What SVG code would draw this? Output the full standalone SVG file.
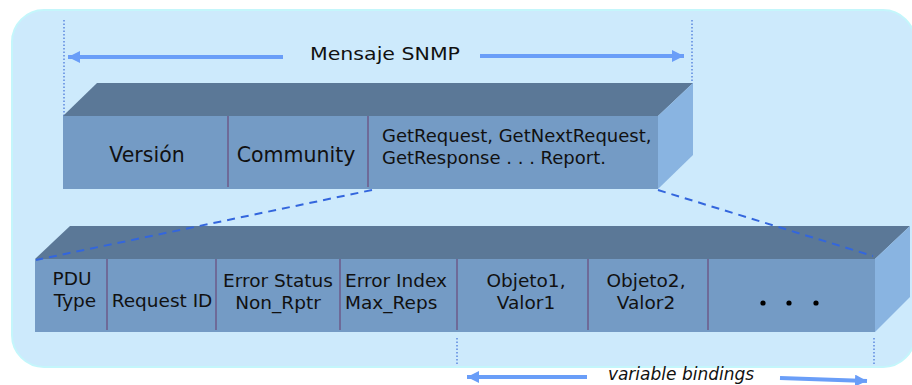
<svg xmlns="http://www.w3.org/2000/svg" width="912" height="385" viewBox="0 0 912 385">
<style>
.bg{fill:#cdeafc;stroke:#c4f6fb;stroke-width:2}
.top{fill:#5b7897}
.front{fill:#749bc5}
.side{fill:#89b4e1}
.div{stroke:#6e6a98;stroke-width:2}
.t{font-family:"DejaVu Sans",Verdana,sans-serif;fill:#111;text-anchor:middle}
.dot{stroke:#3f6fd8;stroke-width:1.2;stroke-dasharray:1.5 2}
.dash{stroke:#3366dd;stroke-width:2;stroke-dasharray:8 6;fill:none}
.arr{stroke:#6a9ef8;stroke-width:4;fill:none}
</style>
<defs>
<marker id="ah" markerUnits="userSpaceOnUse" markerWidth="14" markerHeight="12" refX="12" refY="6" orient="auto">
<path d="M0,0 L12,6 L0,12 Z" fill="#6a9ef8"/>
</marker>
</defs>
<rect class="bg" x="12" y="10" width="903" height="357" rx="32"/>
<g id="connectors">
<line class="dot" x1="64" y1="20" x2="64" y2="116"/>
<line class="dot" x1="692" y1="20" x2="692" y2="135"/>
<line class="arr" x1="283" y1="57" x2="68" y2="57" marker-end="url(#ah)"/>
<line class="arr" x1="480" y1="56" x2="684" y2="56" marker-end="url(#ah)"/>
<line class="dot" x1="457" y1="338" x2="457" y2="366"/>
<line class="dot" x1="874" y1="338" x2="874" y2="366"/>
<line class="arr" x1="587" y1="377" x2="467" y2="377" marker-end="url(#ah)"/>
<line class="arr" x1="780" y1="378" x2="867" y2="381" marker-end="url(#ah)"/>
</g>
<g id="snmp-label">
<text class="t" x="385" y="60" font-size="18" textLength="150" lengthAdjust="spacingAndGlyphs">Mensaje SNMP</text>
</g>
<g id="message-block">
<polygon class="top" points="63,116 97,83 693,83 658,116"/>
<polygon class="side" points="658,116 693,83 693,155 658,189"/>
<rect class="front" x="63" y="116" width="595" height="73"/>
<line class="div" x1="228" y1="116" x2="228" y2="187"/>
<line class="div" x1="368" y1="116" x2="368" y2="187"/>
<text class="t" x="147" y="162" font-size="20.5">Versión</text>
<text class="t" x="296" y="162" font-size="20.5">Community</text>
<text class="t" x="382" y="142" font-size="18" style="text-anchor:start">GetRequest, GetNextRequest,</text>
<text class="t" x="382" y="164" font-size="18" style="text-anchor:start">GetResponse . . . Report.</text>
</g>
<g id="pdu-block">
<polygon class="top" points="35,259 70,226 910,226 875,259"/>
<polygon class="side" points="875,259 910,226 910,297 875,332"/>
<rect class="front" x="35" y="259" width="840" height="73"/>
<line class="div" x1="107" y1="259" x2="107" y2="330"/>
<line class="div" x1="216" y1="259" x2="216" y2="330"/>
<line class="div" x1="340" y1="259" x2="340" y2="330"/>
<line class="div" x1="457" y1="259" x2="457" y2="330"/>
<line class="div" x1="588" y1="259" x2="588" y2="330"/>
<line class="div" x1="708" y1="259" x2="708" y2="330"/>
<text class="t" x="72" y="285" font-size="18.5">PDU</text>
<text class="t" x="75" y="307" font-size="18.5">Type</text>
<text class="t" x="162" y="307" font-size="18.5">Request ID</text>
<text class="t" x="278" y="287" font-size="18.5">Error Status</text>
<text class="t" x="278" y="309" font-size="18.5">Non_Rptr</text>
<text class="t" x="345" y="287" font-size="18.5" style="text-anchor:start">Error Index</text>
<text class="t" x="345" y="309" font-size="18.5" style="text-anchor:start">Max_Reps</text>
<text class="t" x="526" y="287" font-size="18.5">Objeto1,</text>
<text class="t" x="526" y="309" font-size="18.5">Valor1</text>
<text class="t" x="646" y="287" font-size="18.5">Objeto2,</text>
<text class="t" x="646" y="309" font-size="18.5">Valor2</text>
<circle cx="763" cy="303" r="2.6" fill="#000"/>
<circle cx="789" cy="303" r="2.6" fill="#000"/>
<circle cx="816" cy="303" r="2.6" fill="#000"/>
</g>
<g id="zoom-lines">
<line class="dash" x1="372" y1="190" x2="36" y2="260"/>
<line class="dash" x1="658" y1="190" x2="873" y2="256"/>
</g>
<g id="bindings-label">
<text class="t" x="681" y="380" font-size="17" font-style="italic">variable bindings</text>
</g>
</svg>
